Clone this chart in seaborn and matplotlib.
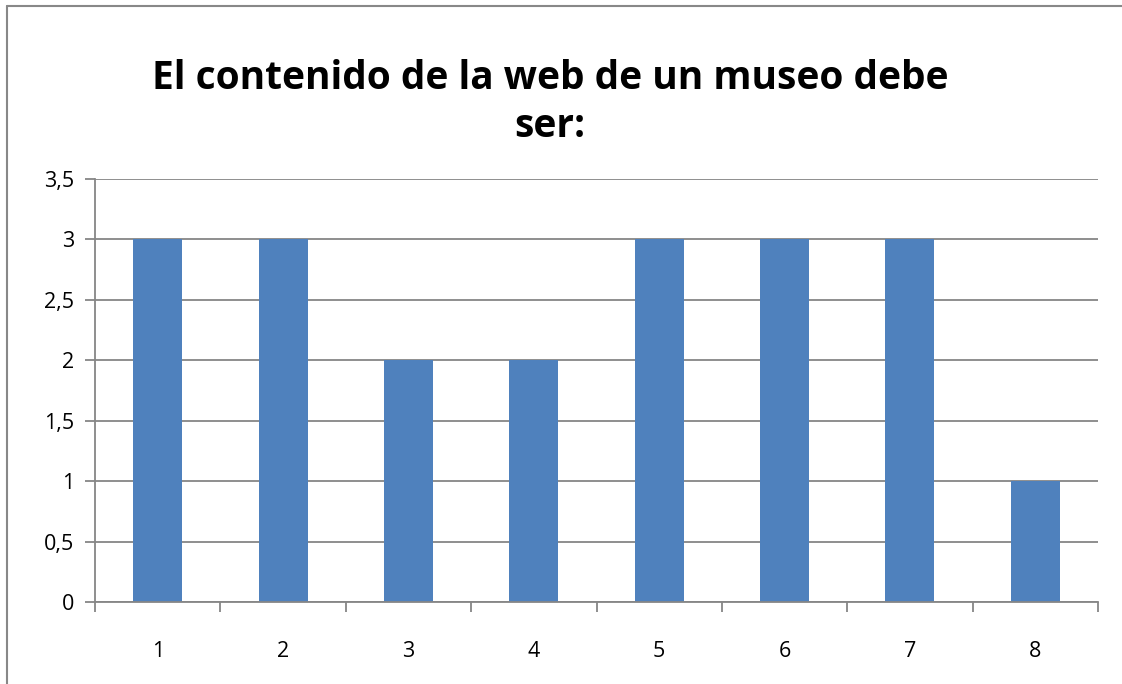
import seaborn as sns
import matplotlib.pyplot as plt
import matplotlib.lines as mlines
import pandas as pd

categories = ["1", "2", "3", "4", "5", "6", "7", "8"]
values = [3, 3, 2, 2, 3, 3, 3, 1]
y_ticks = [0, 0.5, 1, 1.5, 2, 2.5, 3, 3.5]
y_tick_labels = ["0", "0,5", "1", "1,5", "2", "2,5", "3", "3,5"]
title = "El contenido de la web de un museo debe\nser:"

df = pd.DataFrame({"cat": categories, "val": values})

sns.set_theme(style="white")
plt.rcParams["font.family"] = ["Open Sans", "DejaVu Sans"]
plt.rcParams["text.color"] = "black"
plt.rcParams["xtick.color"] = "black"
plt.rcParams["ytick.color"] = "black"

fig = plt.figure(figsize=(11.22, 6.84), dpi=100)
ax = fig.add_axes([0.0847, 0.1199, 0.8939, 0.6184])

sns.barplot(data=df, x="cat", y="val", color="#4F81BD", saturation=1,
            width=0.39, linewidth=0, ax=ax)

grid_c = "#868686"
ax.set_ylim(0, 3.5)
ax.set_xlim(-0.5, 7.5)
ax.set_yticks(y_ticks)
ax.set_yticklabels(y_tick_labels, fontsize=15.5)
ax.set_xticks(range(len(categories)))
ax.set_xticklabels(categories, fontsize=15.5)
ax.set_xlabel("")
ax.set_ylabel("")
ax.yaxis.grid(True, color=grid_c, linewidth=1.3)
ax.set_axisbelow(True)
for s in ["top", "right"]:
    ax.spines[s].set_visible(False)
for s in ["left", "bottom"]:
    ax.spines[s].set_color(grid_c)
    ax.spines[s].set_linewidth(1.3)

ax.tick_params(axis="y", left=True, length=7, color=grid_c, width=1.3, pad=8)
ax.tick_params(axis="x", bottom=False, pad=22)
# category boundary ticks on the x axis
ax.set_xticks([i - 0.5 for i in range(len(categories) + 1)], minor=True)
ax.tick_params(axis="x", which="minor", bottom=True, length=7, color=grid_c, width=1.3)

fig.text(0.49, 0.85, title, ha="center", va="center", fontsize=28,
         fontweight="bold", linespacing=1.3, color="black")

# chart border (left and top visible)
fig.add_artist(mlines.Line2D([0.0062, 0.0062], [0, 0.9905], color="#888888", lw=1.5))
fig.add_artist(mlines.Line2D([0.0062, 1], [0.9905, 0.9905], color="#888888", lw=1.5))

fig.savefig("out.png", dpi=100)
